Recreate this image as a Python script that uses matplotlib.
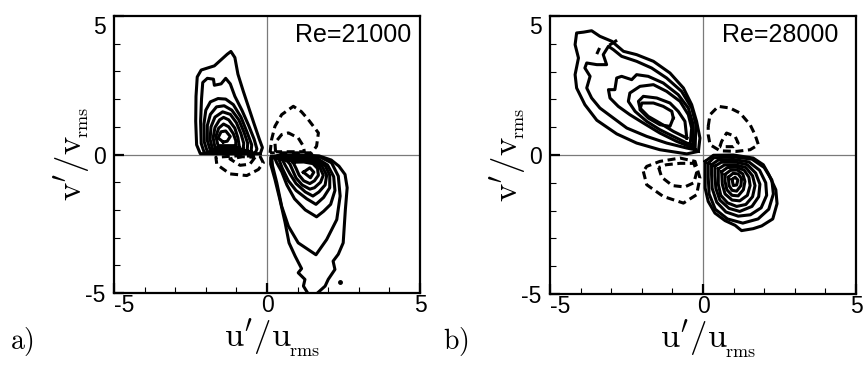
import matplotlib
matplotlib.use("Agg")
import matplotlib.pyplot as plt

plt.rcParams['mathtext.fontset'] = 'cm'

# ---------------- data (u'/u_rms, v'/v_rms) ----------------
PANEL_TAGS = ["a)", "b)"]
RE_LABELS = ["Re=21000", "Re=28000"]
X_TICKS = [-5, 0, 5]
Y_TICKS = [-5, 0, 5]
TICK_LABELS = ["-5", "0", "5"]
MINOR_TICKS = [-4, -3, -2, -1, 1, 2, 3, 4]

# Panel a) Re=21000 -- solid contours, quadrant 2 (closed)
A_Q2 = [
    [(-0.22, 0.03), (-2.18, 0.03), (-2.30, 0.35), (-2.33, 1.2), (-2.32, 2.1), (-2.28, 2.8),
     (-2.15, 3.05), (-1.95, 3.12), (-1.72, 3.2), (-1.5, 3.42), (-1.3, 3.62), (-1.18, 3.72),
     (-1.05, 3.5), (-0.95, 2.9), (-0.78, 2.3), (-0.6, 1.7), (-0.42, 1.1), (-0.25, 0.55), (-0.15, 0.25)],
    [(-0.38, 0.06), (-2.05, 0.06), (-2.15, 0.4), (-2.17, 1.2), (-2.14, 2.0), (-2.1, 2.6),
     (-1.95, 2.75), (-1.75, 2.72), (-1.72, 2.5), (-1.5, 2.55), (-1.35, 2.75), (-1.2, 2.55),
     (-1.05, 2.1), (-0.82, 1.6), (-0.6, 1.05), (-0.42, 0.55), (-0.33, 0.2)],
    [(-0.52, 0.1), (-1.95, 0.1), (-2.05, 0.45), (-2.06, 1.1), (-2.0, 1.6), (-1.85, 1.9),
     (-1.6, 2.02), (-1.35, 2.0), (-1.1, 1.8), (-0.85, 1.35), (-0.65, 0.8), (-0.5, 0.35)],
    [(-0.65, 0.14), (-1.85, 0.14), (-1.95, 0.5), (-1.95, 1.05), (-1.85, 1.45), (-1.65, 1.72),
     (-1.4, 1.76), (-1.15, 1.6), (-0.92, 1.25), (-0.75, 0.8), (-0.63, 0.4)],
    [(-0.78, 0.19), (-1.78, 0.19), (-1.86, 0.55), (-1.83, 1.0), (-1.7, 1.35), (-1.45, 1.54),
     (-1.2, 1.45), (-1.0, 1.15), (-0.85, 0.75), (-0.76, 0.4)],
    [(-0.9, 0.25), (-1.7, 0.25), (-1.76, 0.6), (-1.7, 0.98), (-1.55, 1.25), (-1.42, 1.34),
     (-1.25, 1.25), (-1.05, 0.95), (-0.95, 0.6)],
    [(-1.02, 0.32), (-1.6, 0.32), (-1.67, 0.65), (-1.58, 0.95), (-1.42, 1.1), (-1.25, 1.0),
     (-1.1, 0.75), (-1.02, 0.5)],
    [(-1.43, 0.45), (-1.6, 0.6), (-1.5, 0.82), (-1.35, 0.85), (-1.2, 0.65), (-1.3, 0.48)],
]
# quadrant 4, outermost contour leaves the frame at the bottom (open)
A_Q4_OUTER = [(1.33, -5.0), (1.19, -4.75), (1.24, -4.51), (1.02, -4.27), (1.13, -4.12), (0.92, -3.67),
              (0.72, -3.19), (0.59, -2.45), (0.42, -1.62), (0.26, -0.9), (0.12, -0.35), (0.12, -0.1),
              (0.4, -0.02), (1.0, -0.01), (1.7, -0.05), (2.1, -0.2), (2.35, -0.42), (2.55, -0.72),
              (2.62, -1.2), (2.56, -2.0), (2.49, -3.19), (2.33, -3.6), (2.16, -3.85), (2.22, -4.15),
              (2.0, -4.51), (1.9, -4.75), (1.65, -5.0)]
A_Q4 = [
    [(0.15, -0.07), (1.0, -0.05), (1.75, -0.1), (2.11, -0.3), (2.33, -0.78), (2.39, -1.5),
     (2.28, -2.35), (1.95, -3.07), (1.6, -3.62), (1.02, -3.19), (0.7, -2.59), (0.48, -1.87),
     (0.32, -1.02), (0.18, -0.4)],
    [(0.25, -0.12), (1.0, -0.1), (1.65, -0.15), (1.98, -0.38), (2.18, -0.8), (2.22, -1.3),
     (2.08, -1.8), (1.85, -2.05), (1.62, -2.25), (1.25, -2.0), (0.9, -1.6), (0.65, -1.1),
     (0.48, -0.62), (0.32, -0.3)],
    [(0.38, -0.15), (1.0, -0.13), (1.6, -0.18), (1.9, -0.4), (2.05, -0.75), (2.05, -1.2),
     (1.85, -1.55), (1.6, -1.8), (1.3, -1.6), (0.95, -1.3), (0.7, -0.95), (0.5, -0.5)],
    [(0.5, -0.18), (1.0, -0.17), (1.55, -0.22), (1.8, -0.42), (1.95, -0.75), (1.9, -1.1),
     (1.7, -1.35), (1.5, -1.5), (1.25, -1.35), (0.95, -1.05), (0.75, -0.7), (0.6, -0.4)],
    [(0.65, -0.22), (1.1, -0.21), (1.5, -0.27), (1.72, -0.45), (1.84, -0.75), (1.75, -1.0),
     (1.55, -1.2), (1.4, -1.25), (1.15, -1.1), (0.95, -0.85), (0.85, -0.6), (0.75, -0.35)],
    [(0.85, -0.28), (1.2, -0.27), (1.5, -0.33), (1.65, -0.5), (1.68, -0.75), (1.55, -0.95),
     (1.4, -1.05), (1.2, -0.95), (1.05, -0.75), (0.95, -0.5)],
    [(1.19, -0.64), (1.4, -0.48), (1.53, -0.64), (1.42, -0.84)],
]
A_Q1_DASH = [
    [(0.1, 0.06), (0.15, 0.54), (0.26, 1.02), (0.48, 1.44), (0.86, 1.74), (1.12, 1.55),
     (1.35, 1.26), (1.68, 0.78), (1.62, 0.3), (1.46, 0.06)],
    [(0.28, 0.1), (0.26, 0.42), (0.48, 0.72), (0.7, 0.78), (1.02, 0.6), (1.19, 0.3), (1.22, 0.1)],
]
A_Q3_DASH = [
    [(-0.23, -0.06), (-0.12, -0.3), (-0.28, -0.54), (-0.66, -0.76), (-1.21, -0.7),
     (-1.64, -0.36), (-1.67, -0.1), (-1.0, -0.05)],
    [(-0.39, -0.1), (-0.56, -0.35), (-0.88, -0.39), (-1.21, -0.16), (-0.8, -0.08)],
]
A_DOTS = [(2.39, -4.61)]

# Panel b) Re=28000
B_Q2 = [
    [(-0.15, 0.13), (-0.1, 0.61), (-0.21, 1.21), (-0.37, 1.81), (-0.64, 2.41), (-1.08, 2.95),
     (-1.62, 3.37), (-2.17, 3.61), (-2.6, 3.73), (-2.98, 4.09), (-3.37, 4.27), (-3.64, 4.47),
     (-3.9, 4.42), (-4.13, 4.39), (-4.18, 3.97), (-4.07, 3.49), (-4.18, 2.89), (-4.13, 2.41),
     (-3.86, 1.81), (-3.47, 1.25), (-2.82, 0.76), (-2.17, 0.43), (-1.41, 0.19), (-0.53, 0.04)],
    [(-0.26, 0.19), (-0.23, 1.09), (-0.37, 1.69), (-0.7, 2.29), (-1.19, 2.77), (-1.68, 3.13),
     (-2.17, 3.37), (-2.66, 3.55), (-2.93, 3.79), (-3.09, 3.91), (-3.26, 3.61), (-3.15, 3.25),
     (-3.47, 3.25), (-3.8, 3.31), (-3.86, 3.13), (-3.69, 2.83), (-3.8, 2.41), (-3.64, 2.05),
     (-3.37, 1.69), (-2.93, 1.33), (-2.49, 0.97), (-1.84, 0.67), (-1.19, 0.43), (-0.53, 0.25)],
    [(-0.32, 0.25), (-0.32, 1.09), (-0.48, 1.69), (-0.81, 2.17), (-1.3, 2.59), (-1.79, 2.83),
     (-2.17, 2.89), (-2.33, 2.71), (-2.66, 2.83), (-2.82, 2.77), (-2.88, 2.35), (-3.09, 2.35),
     (-3.04, 2.05), (-2.77, 1.75), (-2.39, 1.45), (-1.95, 1.15), (-1.41, 0.79), (-0.86, 0.49)],
    [(-0.42, 0.37), (-0.37, 0.97), (-0.48, 1.45), (-0.75, 1.93), (-1.19, 2.29), (-1.62, 2.53),
     (-2.06, 2.47), (-2.39, 2.23), (-2.44, 1.93), (-2.22, 1.57), (-1.84, 1.21), (-1.41, 0.91),
     (-0.86, 0.61)],
    [(-0.53, 0.61), (-0.59, 1.21), (-0.81, 1.57), (-1.08, 1.87), (-1.51, 2.05), (-1.95, 2.11),
     (-2.11, 1.93), (-2.06, 1.69), (-1.79, 1.39), (-1.41, 1.15), (-0.97, 0.85)],
    [(-0.97, 1.33), (-1.02, 1.57), (-1.3, 1.75), (-1.62, 1.87), (-2.0, 1.87), (-2.06, 1.63),
     (-1.79, 1.33), (-1.41, 1.09), (-1.08, 1.03)],
]
B_BITS = [[(-3.02, 3.98), (-2.85, 4.1)], [(-3.45, 3.68), (-3.4, 3.8)]]
B_Q4 = [
    [(0.07, -0.23), (0.07, -1.19), (0.17, -1.67), (0.39, -2.09), (0.72, -2.36), (1.05, -2.53),
     (1.26, -2.72), (1.64, -2.65), (1.92, -2.55), (2.28, -2.3), (2.42, -1.75), (2.38, -1.25),
     (2.15, -0.7), (1.97, -0.35), (1.64, -0.11), (0.99, 0.0), (0.34, -0.01)],
    [(0.17, -0.3), (0.35, -0.1), (1.0, -0.07), (1.6, -0.15), (2.0, -0.45), (2.25, -0.9),
     (2.3, -1.4), (2.15, -1.95), (1.8, -2.3), (1.3, -2.45), (0.8, -2.3), (0.4, -1.95),
     (0.2, -1.4), (0.17, -0.8)],
    [(0.28, -0.35), (0.5, -0.18), (1.0, -0.16), (1.5, -0.25), (1.85, -0.55), (2.05, -1.0),
     (2.08, -1.45), (1.9, -1.9), (1.55, -2.15), (1.15, -2.2), (0.75, -2.05), (0.45, -1.7),
     (0.3, -1.2), (0.28, -0.7)],
    [(0.39, -0.4), (0.6, -0.26), (1.05, -0.25), (1.45, -0.35), (1.72, -0.65), (1.86, -1.05),
     (1.82, -1.5), (1.6, -1.85), (1.2, -2.03), (0.85, -1.92), (0.55, -1.62), (0.42, -1.2),
     (0.39, -0.75)],
    [(0.5, -0.5), (0.7, -0.36), (1.05, -0.35), (1.4, -0.45), (1.62, -0.75), (1.7, -1.1),
     (1.62, -1.5), (1.4, -1.78), (1.1, -1.85), (0.8, -1.72), (0.58, -1.45), (0.5, -1.05)],
    [(0.61, -0.6), (0.8, -0.45), (1.1, -0.44), (1.35, -0.55), (1.5, -0.8), (1.54, -1.1),
     (1.45, -1.45), (1.2, -1.65), (0.95, -1.62), (0.72, -1.4), (0.63, -1.05)],
    [(0.72, -0.7), (0.9, -0.55), (1.12, -0.54), (1.3, -0.68), (1.37, -0.95), (1.32, -1.25),
     (1.15, -1.47), (0.95, -1.45), (0.78, -1.25), (0.72, -0.95)],
    [(0.83, -0.8), (0.98, -0.66), (1.15, -0.68), (1.26, -0.85), (1.24, -1.1), (1.1, -1.3),
     (0.95, -1.27), (0.85, -1.1)],
    [(0.95, -0.88), (1.05, -0.8), (1.14, -0.9), (1.1, -1.08), (0.99, -1.1)],
]
B_Q1_DASH = [
    [(0.17, 1.03), (0.23, 1.45), (0.5, 1.75), (0.88, 1.69), (1.21, 1.51), (1.54, 1.09),
     (1.7, 0.73), (1.81, 0.37), (1.54, 0.19), (1.1, 0.13), (0.56, 0.15), (0.23, 0.37), (0.17, 0.73)],
    [(0.55, 0.3), (0.61, 0.49), (0.77, 0.79), (1.05, 0.67), (1.15, 0.43), (1.0, 0.3)],
]
B_Q3_DASH = [
    [(-1.95, -0.59), (-1.84, -1.07), (-1.3, -1.49), (-0.64, -1.73), (-0.21, -1.43), (-0.1, -0.83),
     (-0.26, -0.23), (-0.75, -0.11), (-1.41, -0.23), (-1.84, -0.41)],
    [(-1.45, -0.45), (-1.35, -0.8), (-1.0, -1.1), (-0.6, -1.15), (-0.3, -1.0), (-0.2, -0.6),
     (-0.3, -0.3), (-0.75, -0.3), (-1.2, -0.35)],
]

# ---------------- drawing ----------------
LW = 2.2
DASH = (0, (2.6, 1.5))
SANS = 'Liberation Sans'


def draw(ax, contours, ls='-', closed=True):
    for c in contours:
        pts = list(c) + ([c[0]] if closed else [])
        ax.plot([p[0] for p in pts], [p[1] for p in pts], color='black', lw=LW,
                ls=ls, solid_joinstyle='round', dash_joinstyle='round', zorder=3)


fig = plt.figure(figsize=(8.63, 3.67), dpi=100)
axA = fig.add_axes([114 / 863, 1 - 293 / 367, 306 / 863, 277 / 367])
axB = fig.add_axes([550 / 863, 1 - 294 / 367, 306 / 863, 278 / 367])

draw(axA, A_Q2)
draw(axA, [A_Q4_OUTER], closed=False)
draw(axA, A_Q4)
draw(axA, A_Q1_DASH, ls=DASH)
draw(axA, A_Q3_DASH, ls=DASH)
axA.plot([d[0] for d in A_DOTS], [d[1] for d in A_DOTS], 'o', color='black', ms=2.5, zorder=3)

draw(axB, B_Q2)
draw(axB, B_BITS, closed=False)
draw(axB, B_Q4)
draw(axB, B_Q1_DASH, ls=DASH)
draw(axB, B_Q3_DASH, ls=DASH)

re_x = [0.973, 0.942]
for i, ax in enumerate([axA, axB]):
    ax.set_xlim(-5, 5)
    ax.set_ylim(-5, 5)
    ax.axhline(0, color='#7a7a7a', lw=0.9, zorder=1)
    ax.axvline(0, color='#7a7a7a', lw=0.9, zorder=1)
    ax.set_xticks(X_TICKS)
    xlabs = ax.set_xticklabels(TICK_LABELS, fontsize=16.5, family=SANS)
    xlabs[0].set_ha('left')
    ax.set_yticks(Y_TICKS)
    ylabs = ax.set_yticklabels(TICK_LABELS, fontsize=16.5, family=SANS)
    ylabs[-1].set_va('top')
    ax.set_xticks(MINOR_TICKS, minor=True)
    ax.set_yticks(MINOR_TICKS, minor=True)
    ax.tick_params(which='both', direction='in', top=False, right=False, color='black')
    ax.tick_params(which='major', length=7, width=1.6)
    ax.tick_params(which='minor', length=4, width=0.8)
    ax.tick_params(axis='x', which='major', pad=1)
    ax.tick_params(axis='y', which='major', pad=6)
    for s in ax.spines.values():
        s.set_linewidth(1.6)
        s.set_zorder(4)
    ax.text(re_x[i], 0.975, RE_LABELS[i], transform=ax.transAxes, ha='right', va='top',
            fontsize=18, family=SANS)

    # axis labels (Computer Modern style)
    xl = ax.text(0.47, -0.16, r"$\mathrm{u}'/\mathrm{u}$", transform=ax.transAxes,
                 ha='center', va='center', fontsize=25)
    ax.annotate(r"$\mathrm{rms}$", xy=(1, 0), xycoords=xl, xytext=(-2, -2),
                textcoords='offset points', ha='left', va='bottom', fontsize=13)
    yl = ax.text(-0.138, 0.45, r"$\mathrm{v}'/\mathrm{v}$", transform=ax.transAxes,
                 ha='center', va='center', fontsize=25, rotation=90)
    ax.annotate(r"$\mathrm{rms}$", xy=(1, 1), xycoords=yl, xytext=(0, -2),
                textcoords='offset points', ha='right', va='bottom', fontsize=13, rotation=90)

fig.text(10 / 863, 1 - 358 / 367, r"$\mathrm{" + PANEL_TAGS[0] + "}$", fontsize=20, ha='left', va='bottom')
fig.text(443 / 863, 1 - 358 / 367, r"$\mathrm{" + PANEL_TAGS[1] + "}$", fontsize=20, ha='left', va='bottom')

fig.savefig("out.png", dpi=100)
